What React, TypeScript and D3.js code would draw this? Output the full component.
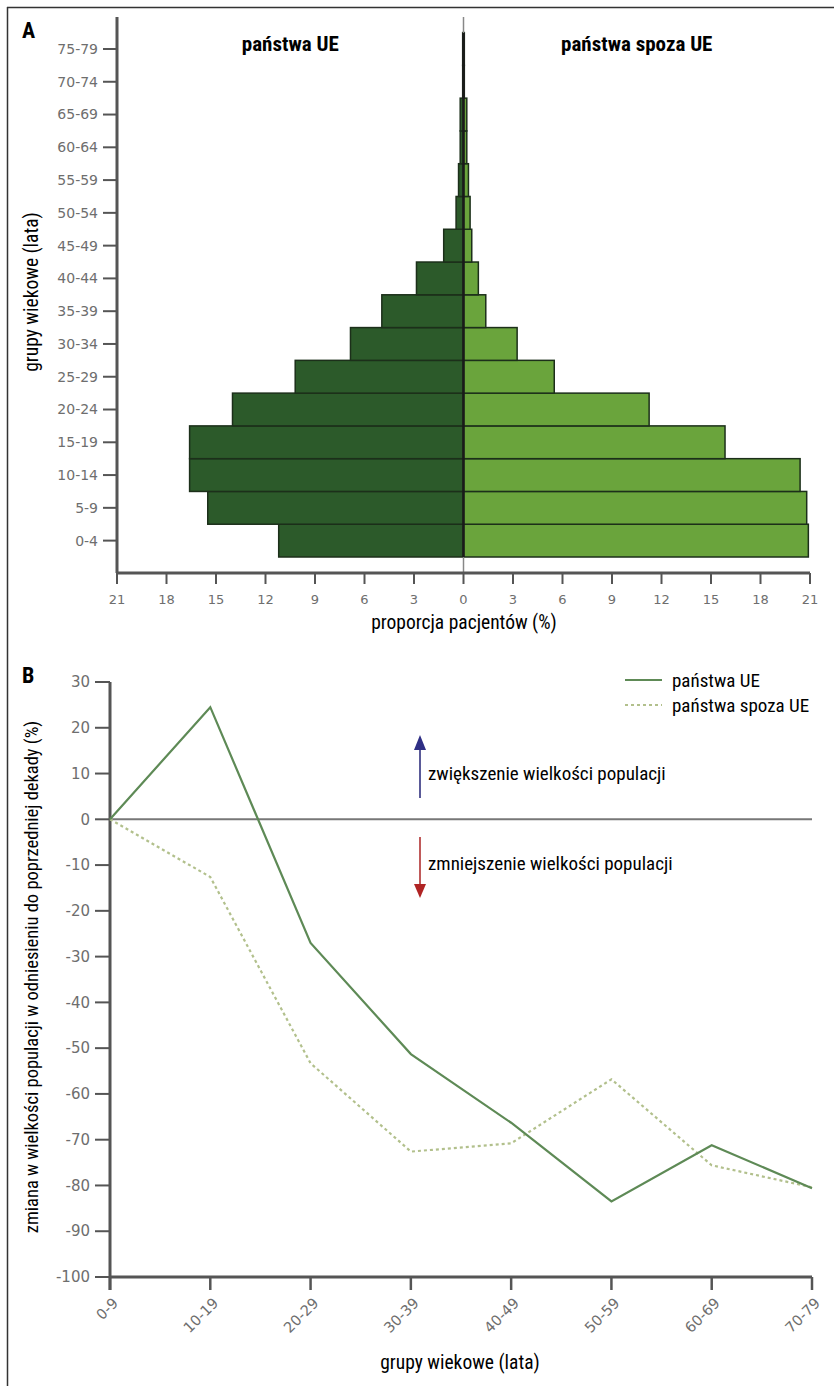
import * as d3 from 'd3';

// panel A: age pyramid
const ageGroups = ['0-4', '5-9', '10-14', '15-19', '20-24', '25-29', '30-34', '35-39', '40-44', '45-49', '50-54', '55-59', '60-64', '65-69', '70-74', '75-79'];
const euShare = [11.2, 15.5, 16.6, 16.6, 14.0, 10.2, 6.85, 4.95, 2.85, 1.2, 0.45, 0.3, 0.2, 0.2, 0.05, 0.05];
const nonEuShare = [20.9, 20.8, 20.4, 15.85, 11.25, 5.5, 3.25, 1.35, 0.9, 0.5, 0.4, 0.3, 0.2, 0.2, 0.05, 0.05];
const shareTicks = [-21, -18, -15, -12, -9, -6, -3, 0, 3, 6, 9, 12, 15, 18, 21];

// panel B: change vs previous decade
const decades = ['0-9', '10-19', '20-29', '30-39', '40-49', '50-59', '60-69', '70-79'];
const euChange = [0, 24.5, -27, -51.3, -66.3, -83.5, -71.2, -80.6];
const nonEuChange = [0, -12.6, -53.3, -72.6, -70.8, -56.8, -75.6, -80.4];
const changeTicks = [30, 20, 10, 0, -10, -20, -30, -40, -50, -60, -70, -80, -90, -100];

const LABEL_FONT = '"Liberation Sans Narrow", "Roboto Condensed", "DejaVu Sans Condensed", "Arial Narrow", sans-serif';
const TICK_FONT = '"DejaVu Sans", Verdana, sans-serif';
const TICK_COLOR = '#6e6e6e';
const AXIS_COLOR = '#555';
const EU_DARK = '#2c5a2a';
const NONEU_LIGHT = '#6aa43c';
const EU_LINE = '#5e8a56';
const NONEU_LINE = '#b2c08c';

export default function App() {
  // scales for A
  const xA = d3.scaleLinear().domain([-21, 21]).range([117, 810]);
  const yA = d3.scaleBand().domain(ageGroups).range([557, 32.6]).padding(0);
  const axisYA = 573;

  // scales for B
  const xB = d3.scalePoint().domain(decades).range([110, 812]);
  const yB = d3.scaleLinear().domain([-100, 30]).range([1277, 682]);

  const line = d3
    .line<number>()
    .x((_, i) => xB(decades[i]) as number)
    .y((d) => yB(d));

  return (
    <svg
      width={834}
      height={1386}
      style={{ position: 'absolute', left: 0, top: 0, display: 'block', background: '#fff' }}
    >
      {/* frame */}
      <line x1={7} y1={7.5} x2={834} y2={7.5} stroke="#333" strokeWidth={1.5} />
      <line x1={7.5} y1={7} x2={7.5} y2={1386} stroke="#333" strokeWidth={1.5} />

      {/* ---------- A ---------- */}
      <text x={22} y={38} fontFamily={LABEL_FONT} fontWeight="bold" fontSize={22}>A</text>
      <text x={xA(-10.5)} y={51} textAnchor="middle" fontFamily={LABEL_FONT} fontWeight="bold" fontSize={21}>państwa UE</text>
      <text x={xA(10.5)} y={51} textAnchor="middle" fontFamily={LABEL_FONT} fontWeight="bold" fontSize={21}>państwa spoza UE</text>

      {/* bars */}
      {ageGroups.map((g, i) => (
        <g key={g}>
          <rect
            x={xA(-euShare[i])}
            y={yA(g)}
            width={xA(0) - xA(-euShare[i])}
            height={yA.bandwidth()}
            fill={EU_DARK}
            stroke="#1c2f1a"
            strokeWidth={1.5}
          />
          <rect
            x={xA(0)}
            y={yA(g)}
            width={xA(nonEuShare[i]) - xA(0)}
            height={yA.bandwidth()}
            fill={NONEU_LIGHT}
            stroke="#1c2f1a"
            strokeWidth={1.5}
          />
        </g>
      ))}

      {/* centre line */}
      <line x1={xA(0)} y1={17} x2={xA(0)} y2={33} stroke="#888" strokeWidth={1.5} />
      <line x1={xA(0)} y1={33} x2={xA(0)} y2={yA('0-4')! + yA.bandwidth()} stroke="#1a1a1a" strokeWidth={2.5} />
      <line x1={xA(0)} y1={yA('0-4')! + yA.bandwidth()} x2={xA(0)} y2={axisYA} stroke="#888" strokeWidth={1.5} />

      {/* y axis A */}
      <line x1={xA(-21)} y1={17} x2={xA(-21)} y2={axisYA} stroke={AXIS_COLOR} strokeWidth={3} />
      {ageGroups.map((g) => {
        const y = (yA(g) as number) + yA.bandwidth() / 2;
        return (
          <g key={g}>
            <line x1={103} y1={y} x2={xA(-21)} y2={y} stroke={AXIS_COLOR} strokeWidth={2} />
            <text x={98} y={y} dy="0.35em" textAnchor="end" fontFamily={TICK_FONT} fontSize={14} fill={TICK_COLOR}>
              {g}
            </text>
          </g>
        );
      })}

      {/* x axis A */}
      <line x1={xA(-21)} y1={axisYA} x2={xA(21)} y2={axisYA} stroke={AXIS_COLOR} strokeWidth={3} />
      {shareTicks.map((t) => (
        <g key={t}>
          <line x1={xA(t)} y1={axisYA} x2={xA(t)} y2={axisYA + 11} stroke={AXIS_COLOR} strokeWidth={2} />
          <text x={xA(t)} y={604} textAnchor="middle" fontFamily={TICK_FONT} fontSize={13} fill={TICK_COLOR}>
            {Math.abs(t)}
          </text>
        </g>
      ))}

      <text transform="translate(38,292) rotate(-90)" textAnchor="middle" fontFamily={LABEL_FONT} fontSize={19.5}>
        grupy wiekowe (lata)
      </text>
      <text x={464} y={629} textAnchor="middle" fontFamily={LABEL_FONT} fontSize={19.5}>
        proporcja pacjentów (%)
      </text>

      {/* ---------- B ---------- */}
      <text x={22} y={683} fontFamily={LABEL_FONT} fontWeight="bold" fontSize={22}>B</text>

      {/* zero line */}
      <line x1={xB('0-9')} y1={yB(0)} x2={xB('70-79')} y2={yB(0)} stroke="#777" strokeWidth={2} />

      {/* y axis B */}
      <line x1={xB('0-9')} y1={yB(30)} x2={xB('0-9')} y2={yB(-100) + 13} stroke={AXIS_COLOR} strokeWidth={3} />
      {changeTicks.map((t) => (
        <g key={t}>
          <line x1={95} y1={yB(t)} x2={xB('0-9')} y2={yB(t)} stroke={AXIS_COLOR} strokeWidth={2} />
          <text x={90} y={yB(t)} dy="0.35em" textAnchor="end" fontFamily={TICK_FONT} fontSize={15} fill={TICK_COLOR}>
            {t}
          </text>
        </g>
      ))}

      {/* x axis B */}
      <line x1={xB('0-9')} y1={yB(-100)} x2={xB('70-79')} y2={yB(-100)} stroke={AXIS_COLOR} strokeWidth={3} />
      {decades.map((d) => {
        const x = xB(d) as number;
        return (
          <g key={d}>
            <line x1={x} y1={yB(-100)} x2={x} y2={yB(-100) + 13} stroke={AXIS_COLOR} strokeWidth={2.5} />
            <text
              transform={`translate(${x + 9},1304) rotate(-45)`}
              textAnchor="end"
              fontFamily={TICK_FONT}
              fontSize={14.5}
              fill={TICK_COLOR}
            >
              {d}
            </text>
          </g>
        );
      })}

      {/* series */}
      <path d={line(nonEuChange) ?? ''} fill="none" stroke={NONEU_LINE} strokeWidth={2.2} strokeDasharray="3,3" />
      <path d={line(euChange) ?? ''} fill="none" stroke={EU_LINE} strokeWidth={2.2} />

      {/* legend */}
      <line x1={625} y1={680} x2={662} y2={680} stroke={EU_LINE} strokeWidth={2.2} />
      <text x={672} y={687} fontFamily={LABEL_FONT} fontSize={19}>państwa UE</text>
      <line x1={625} y1={705} x2={662} y2={705} stroke={NONEU_LINE} strokeWidth={2.2} strokeDasharray="3,3" />
      <text x={672} y={712} fontFamily={LABEL_FONT} fontSize={19}>państwa spoza UE</text>

      {/* arrows */}
      <line x1={420} y1={798} x2={420} y2={748} stroke="#5a5a98" strokeWidth={2} />
      <path d="M420,735 L426,750 L414,750 Z" fill="#2f2f85" />
      <text x={428} y={780} fontFamily={LABEL_FONT} fontSize={19}>zwiększenie wielkości populacji</text>

      <line x1={420} y1={837} x2={420} y2={886} stroke="#c05a5a" strokeWidth={2} />
      <path d="M420,898 L426,884 L414,884 Z" fill="#b02424" />
      <text x={428} y={870} fontFamily={LABEL_FONT} fontSize={19}>zmniejszenie wielkości populacji</text>

      <text transform="translate(38,977) rotate(-90)" textAnchor="middle" fontFamily={LABEL_FONT} fontSize={18.5}>
        zmiana w wielkości populacji w odniesieniu do poprzedniej dekady (%)
      </text>
      <text x={460} y={1369} textAnchor="middle" fontFamily={LABEL_FONT} fontSize={19.5}>
        grupy wiekowe (lata)
      </text>
    </svg>
  );
}
